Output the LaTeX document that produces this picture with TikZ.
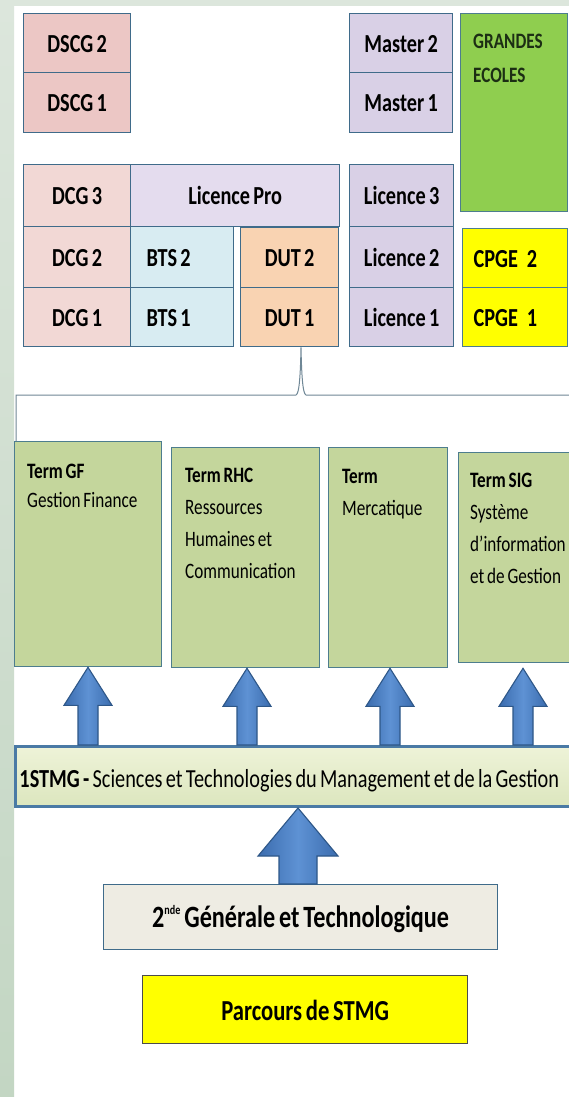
\documentclass[tikz,border=0pt]{standalone}
\usepackage{fontspec}
\setmainfont{Carlito}[FakeStretch=0.78, WordSpace=0.72]
\usetikzlibrary{calc}
\definecolor{stripA}{HTML}{DCE6DC}
\definecolor{stripB}{HTML}{C3D6C3}
\definecolor{bordc}{HTML}{3F6B8A}
\definecolor{pinkA}{HTML}{ECC7C5}
\definecolor{pinkB}{HTML}{F2D8D5}
\definecolor{lavA}{HTML}{D9D0E6}
\definecolor{lavB}{HTML}{E4DCEE}
\definecolor{blueL}{HTML}{D8ECF2}
\definecolor{peach}{HTML}{F9D3B2}
\definecolor{geGreen}{HTML}{8FCE4F}
\definecolor{yel}{HTML}{FFFF00}
\definecolor{termG}{HTML}{C4D69C}
\definecolor{termB}{HTML}{4D7D8E}
\definecolor{barA}{HTML}{EEF3D8}
\definecolor{barB}{HTML}{DCE6BE}
\definecolor{barBord}{HTML}{4A7AA5}
\definecolor{grayL}{HTML}{EEECE3}
\definecolor{arrA}{HTML}{3B6CAE}
\definecolor{arrB}{HTML}{5E92D4}
\definecolor{arrD}{HTML}{2E5788}
\definecolor{braceC}{HTML}{6F8796}
\definecolor{geText}{HTML}{1C2E14}
\newcommand\blockarrow[5]{%
  \draw[arrowstyle] (#1) -- ($(#1)+(#4,#5)$) -- ($(#1)+(#3,#5)$) -- ($(#2)+(#3,0)$)
    -- ($(#2)+(-#3,0)$) -- ($(#1)+(-#3,#5)$) -- ($(#1)+(-#4,#5)$) -- cycle;}
\begin{document}
\begin{tikzpicture}[x=1pt,y=-1pt,
  box/.style={draw=bordc, line width=1.3pt, anchor=north west, inner sep=0pt,
    font=\fontsize{26}{30}\selectfont\bfseries, text height=18pt, text depth=0pt},
  term/.style={draw=termB, line width=1.3pt, fill=termG, anchor=north west, inner sep=0pt},
  termtext/.style={anchor=base west, inner sep=0pt, align=left,
    font=\fontsize{22}{32}\selectfont},
  arrowstyle/.style={draw=arrD, line width=1.1pt, left color=arrA, right color=arrA, middle color=arrB, shading angle=90},
  brace/.style={draw=braceC, line width=1pt}
]
\useasboundingbox (0,0) rectangle (569,1097);
% background
\fill[white] (0,0) rectangle (569,1097);
\fill[stripA] (0,0) rectangle (569,6);
\shade[top color=stripA, bottom color=stripB] (0,0) rectangle (14,1097);

% upper boxes
\node[box, fill=pinkA, minimum width=107pt, minimum height=59pt] (dscg2) at (23,13) {DSCG 2};
\node[box, fill=pinkA, minimum width=107pt, minimum height=60pt] (dscg1) at (23,72) {DSCG 1};
\node[box, fill=lavA, minimum width=103pt, minimum height=59pt] (master2) at (349,13) {Master 2};
\node[box, fill=lavA, minimum width=103pt, minimum height=60pt] (master1) at (349,72) {Master 1};
\node[box, fill=geGreen, draw=termB, minimum width=107pt, minimum height=198pt] (ge) at (460,13) {};
\node[anchor=base west, inner sep=0pt, align=left, text=geText,
  font=\fontsize{22}{34}\selectfont\bfseries] (getext) at (473,83) {GRANDES\\ECOLES};

\node[box, fill=pinkB, minimum width=107pt, minimum height=62pt] (dcg3) at (23,164) {DCG 3};
\node[box, fill=lavB, minimum width=209pt, minimum height=62pt] (lpro) at (130,164) {Licence Pro};
\node[box, fill=pinkB, minimum width=107pt, minimum height=61pt] (dcg2) at (23,226) {DCG 2};
\node[box, fill=blueL, minimum width=103pt, minimum height=61pt] (bts2) at (130,226) {\makebox[71pt][l]{BTS 2}};
\node[box, fill=peach, minimum width=98pt, minimum height=60pt] (dut2) at (240,227) {DUT 2};
\node[box, fill=pinkB, minimum width=107pt, minimum height=59pt] (dcg1) at (23,287) {DCG 1};
\node[box, fill=blueL, minimum width=103pt, minimum height=59pt] (bts1) at (130,287) {\makebox[71pt][l]{BTS 1}};
\node[box, fill=peach, minimum width=98pt, minimum height=59pt] (dut1) at (240,287) {DUT 1};
\node[box, fill=lavA, minimum width=104pt, minimum height=62pt] (lic3) at (349,164) {Licence 3};
\node[box, fill=lavA, minimum width=104pt, minimum height=61pt] (lic2) at (349,226) {Licence 2};
\node[box, fill=lavA, minimum width=104pt, minimum height=59pt] (lic1) at (349,287) {Licence 1};
\node[box, fill=yel, draw=termB, minimum width=105pt, minimum height=59pt] (cpge2) at (462,228) {\makebox[83pt][l]{CPGE\hspace{9pt}2}};
\node[box, fill=yel, draw=termB, minimum width=105pt, minimum height=59pt] (cpge1) at (462,287) {\makebox[83pt][l]{CPGE\hspace{9pt}1}};

% brace
\coordinate (bl) at (16,442);
\coordinate (bcl) at (16,395);
\coordinate (peak) at (301,0 |- dut1.south);
\coordinate (br) at (574,395);
\draw[brace] (bl) -- (bcl) -- (296,395) .. controls (299.5,394) and (300.5,372) .. (peak)
  .. controls (301.5,372) and (302.5,394) .. (306,395) -- (br);

% term boxes
\node[term, minimum width=147pt, minimum height=225pt] (tgf) at (14,441) {};
\node[term, minimum width=148pt, minimum height=220pt] (trhc) at (171,447) {};
\node[term, minimum width=119pt, minimum height=220pt] (tmerc) at (328,447) {};
\node[term, minimum width=120pt, minimum height=210pt] (tsig) at (458,452) {};
\node[termtext, font=\fontsize{22}{29}\selectfont] (tgft) at (27,507) {\textbf{Term GF}\\Gestion Finance};
\node[termtext] (trhct) at (185,578) {\textbf{Term RHC}\\Ressources\\Humaines et\\Communication};
\node[termtext] (tmerct) at (342,515) {\textbf{Term}\\Mercatique};
\node[termtext] (tsigt) at (470,583) {\textbf{Term SIG}\\Système\\d’information\\et de Gestion};

% bar
\node[box, draw=barBord, line width=3pt, top color=barA, bottom color=barB, minimum width=560pt, minimum height=60pt,
  text height=22pt, font=\fontsize{26}{30}\selectfont] (bar) at (14,745)
  {\makebox[552pt][l]{\textbf{1STMG -} Sciences et Technologies du Management et de la Gestion}};

% lower boxes
\node[box, fill=grayL, minimum width=394pt, minimum height=65pt, text height=21pt,
  font=\fontsize{31}{36}\selectfont\bfseries] (snd) at (103,884)
  {2\raisebox{0.42em}{\fontsize{13}{13}\selectfont nde} Générale et Technologique};
\node[box, fill=yel, draw=black!70, minimum width=325pt, minimum height=68pt, text height=22pt,
  font=\fontsize{29}{34}\selectfont\bfseries] (parc) at (142,975) {Parcours de STMG};

% arrows
\coordinate (t1) at (88,0 |- tgf.south);
\coordinate (b1) at (88,0 |- bar.north);
\coordinate (t2) at (247,0 |- trhc.south);
\coordinate (b2) at (247,0 |- bar.north);
\coordinate (t3) at (390,0 |- tmerc.south);
\coordinate (b3) at (390,0 |- bar.north);
\coordinate (t4) at (523,0 |- trhc.south);
\coordinate (b4) at (523,0 |- bar.north);
\coordinate (t5) at (298,0 |- bar.south);
\coordinate (b5) at (298,0 |- snd.north);
\blockarrow{t1}{b1}{10}{24}{38}
\blockarrow{t2}{b2}{10}{24}{38}
\blockarrow{t3}{b3}{10}{24}{38}
\blockarrow{t4}{b4}{10}{24}{38}
\blockarrow{t5}{b5}{19}{40}{48}
\end{tikzpicture}
\end{document}
